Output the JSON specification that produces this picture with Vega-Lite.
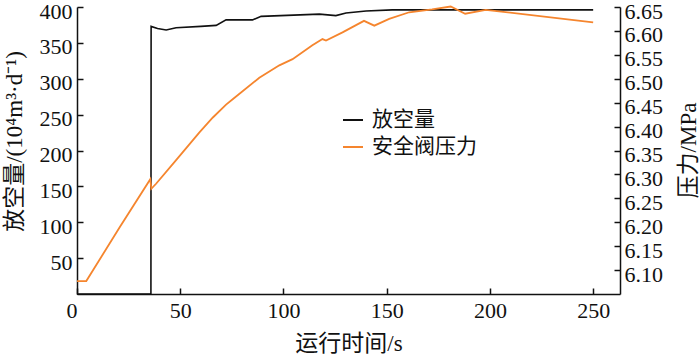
{
  "$schema": "https://vega.github.io/schema/vega-lite/v6.json",
  "width": 543,
  "height": 287,
  "autosize": {"type": "none"},
  "padding": {"left": 77, "top": 7, "right": 80, "bottom": 64},
  "background": "white",
  "config": {
    "view": {"stroke": null},
    "font": "Liberation Serif",
    "axis": {
      "grid": false,
      "domainColor": "#111111",
      "domainWidth": 1.5,
      "tickColor": "#111111",
      "tickWidth": 1.5,
      "tickSize": -6,
      "labelFont": "Liberation Serif",
      "labelFontSize": 22,
      "labelColor": "#111111",
      "titleFont": "Liberation Serif, Noto Sans CJK SC",
      "titleFontSize": 23,
      "titleFontWeight": "normal",
      "titleColor": "#111111"
    },
    "legend": {
      "labelFont": "Liberation Serif, Noto Sans CJK SC",
      "labelFontSize": 21,
      "labelColor": "#111111"
    }
  },
  "datasets": {
    "flow": [
      {"t": 0, "v": 0, "s": "放空量"},
      {"t": 35.8, "v": 0, "s": "放空量"},
      {"t": 35.9, "v": 373, "s": "放空量"},
      {"t": 39, "v": 370, "s": "放空量"},
      {"t": 43.2, "v": 368, "s": "放空量"},
      {"t": 48, "v": 371, "s": "放空量"},
      {"t": 60, "v": 373, "s": "放空量"},
      {"t": 67.4, "v": 374.4, "s": "放空量"},
      {"t": 72.2, "v": 382, "s": "放空量"},
      {"t": 85, "v": 382, "s": "放空量"},
      {"t": 89.2, "v": 387, "s": "放空量"},
      {"t": 117.4, "v": 390, "s": "放空量"},
      {"t": 125.4, "v": 388, "s": "放空量"},
      {"t": 130.3, "v": 391.6, "s": "放空量"},
      {"t": 140, "v": 394.4, "s": "放空量"},
      {"t": 152.7, "v": 396, "s": "放空量"},
      {"t": 250, "v": 396, "s": "放空量"}
    ],
    "press": [
      {"t": 0, "p": 6.077, "s": "安全阀压力"},
      {"t": 4.5, "p": 6.077, "s": "安全阀压力"},
      {"t": 20.6, "p": 6.189, "s": "安全阀压力"},
      {"t": 35.5, "p": 6.29, "s": "安全阀压力"},
      {"t": 36, "p": 6.27, "s": "安全阀压力"},
      {"t": 38.4, "p": 6.281, "s": "安全阀压力"},
      {"t": 48, "p": 6.33, "s": "安全阀压力"},
      {"t": 59.3, "p": 6.388, "s": "安全阀压力"},
      {"t": 65.8, "p": 6.419, "s": "安全阀压力"},
      {"t": 72.2, "p": 6.446, "s": "安全阀压力"},
      {"t": 75.4, "p": 6.457, "s": "安全阀压力"},
      {"t": 88.3, "p": 6.502, "s": "安全阀压力"},
      {"t": 98, "p": 6.528, "s": "安全阀压力"},
      {"t": 104.4, "p": 6.541, "s": "安全阀压力"},
      {"t": 114, "p": 6.57, "s": "安全阀压力"},
      {"t": 118.9, "p": 6.583, "s": "安全阀压力"},
      {"t": 120.6, "p": 6.58, "s": "安全阀压力"},
      {"t": 128.6, "p": 6.597, "s": "安全阀压力"},
      {"t": 139, "p": 6.621, "s": "安全阀压力"},
      {"t": 144, "p": 6.611, "s": "安全阀压力"},
      {"t": 151.2, "p": 6.625, "s": "安全阀压力"},
      {"t": 160.9, "p": 6.639, "s": "安全阀压力"},
      {"t": 172, "p": 6.645, "s": "安全阀压力"},
      {"t": 181, "p": 6.651, "s": "安全阀压力"},
      {"t": 188, "p": 6.636, "s": "安全阀压力"},
      {"t": 198, "p": 6.644, "s": "安全阀压力"},
      {"t": 250, "p": 6.618, "s": "安全阀压力"}
    ]
  },
  "encoding": {
    "x": {
      "field": "t",
      "type": "quantitative",
      "scale": {"domain": [0, 263], "nice": false, "zero": false},
      "axis": {
        "title": "运行时间/s",
        "values": [0, 50, 100, 150, 200, 250],
        "labelPadding": 12,
        "labelAlign": {"expr": "datum.value == 0 ? 'right' : 'center'"},
        "labelFlush": false,
        "titlePadding": 11
      }
    }
  },
  "layer": [
    {
      "data": {"name": "flow"},
      "mark": {"type": "line", "strokeWidth": 1.6},
      "encoding": {
        "y": {
          "field": "v",
          "type": "quantitative",
          "scale": {"domain": [0, 400], "nice": false},
          "axis": {
            "title": "放空量/(10⁴m³·d⁻¹)",
            "values": [50, 100, 150, 200, 250, 300, 350, 400],
            "labelPadding": 11,
            "labelOffset": 4,
            "labelFlush": false,
            "titleAngle": 270,
            "titleBaseline": "middle",
            "titleX": -63,
            "titleY": 134
          }
        },
        "color": {
          "field": "s",
          "type": "nominal",
          "scale": {"domain": ["放空量", "安全阀压力"], "range": ["#111111", "#f5852e"]},
          "legend": {
            "title": null,
            "orient": "none",
            "legendX": 265,
            "legendY": 102,
            "symbolType": "stroke",
            "symbolSize": 400,
            "symbolStrokeWidth": 2,
            "rowPadding": 6,
            "labelOffset": 8
          }
        }
      }
    },
    {
      "data": {"name": "press"},
      "mark": {"type": "line", "strokeWidth": 1.8},
      "encoding": {
        "y": {
          "field": "p",
          "type": "quantitative",
          "scale": {"domain": [6.05, 6.65], "nice": false, "zero": false},
          "axis": {
            "title": "压力/MPa",
            "orient": "right",
            "format": ".2f",
            "values": [6.1, 6.15, 6.2, 6.25, 6.3, 6.35, 6.4, 6.45, 6.5, 6.55, 6.6, 6.65],
            "labelPadding": 10,
            "labelOffset": 4,
            "labelFlush": false,
            "titleAngle": 270,
            "titleBaseline": "middle",
            "titleX": 68,
            "titleY": 143
          }
        },
        "color": {"field": "s", "type": "nominal"}
      }
    }
  ],
  "resolve": {"scale": {"y": "independent"}, "axis": {"y": "independent"}}
}
